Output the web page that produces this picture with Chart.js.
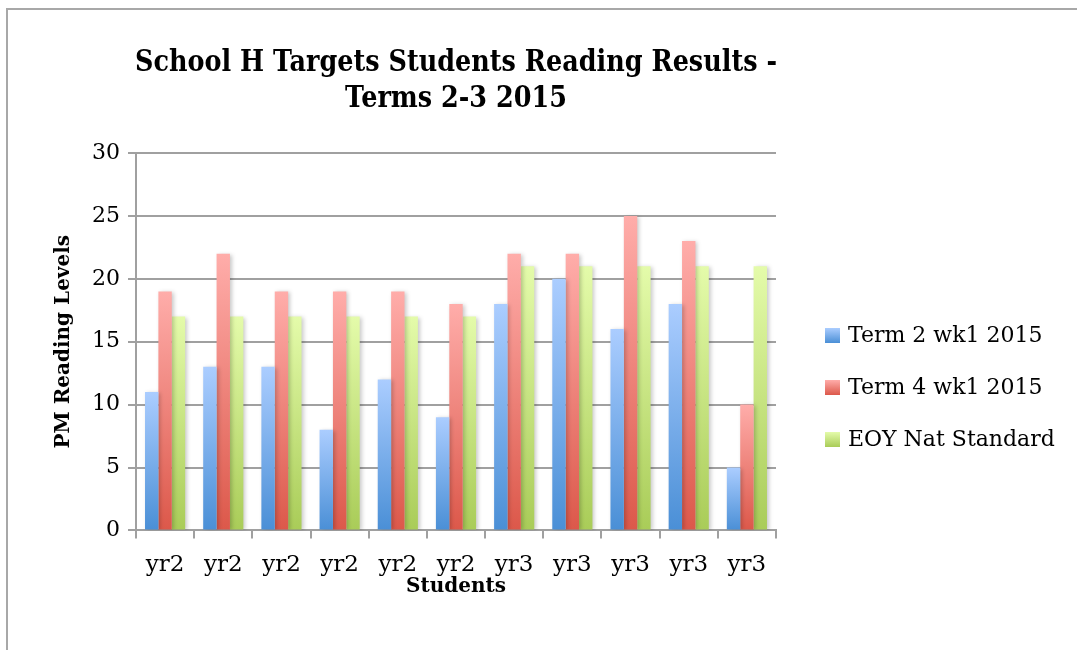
<!DOCTYPE html>
<html>
<head>
<meta charset="utf-8">
<script src="https://cdn.jsdelivr.net/npm/chart.js@4.4.0/dist/chart.umd.min.js"></script>
<style>
    body { margin: 0; background: #fff; }
    #frame {
        position: absolute; left: 6px; top: 8px; width: 1200px; height: 800px;
        border-left: 2px solid #a8a8a8; border-top: 2px solid #a8a8a8;
    }
    #wrap { position: absolute; left: 0; top: 0; width: 1077px; height: 650px; }
</style>
</head>
<body>
<div id="frame"></div>
<div id="wrap"><canvas id="chart" width="1077" height="650"></canvas></div>
<script>
const categories = ["yr2", "yr2", "yr2", "yr2", "yr2", "yr2", "yr3", "yr3", "yr3", "yr3", "yr3"];
const term2 = [11, 13, 13, 8, 12, 9, 18, 20, 16, 18, 5];
const term4 = [19, 22, 19, 19, 19, 18, 22, 22, 25, 23, 10];
const eoyStandard = [17, 17, 17, 17, 17, 17, 21, 21, 21, 21, 21];
const seriesNames = ["Term 2 wk1 2015", "Term 4 wk1 2015", "EOY Nat Standard"];
const titleLines = ["School H Targets Students Reading Results -", "Terms 2-3 2015"];

// top colour, bottom colour
const palette = [
    ["#abcdff", "#4a8fd6"],
    ["#ffadaa", "#dc584a"],
    ["#e4fbaa", "#a9cc58"]
];

function vGradient(ctx, top, bot, pal) {
    const g = ctx.createLinearGradient(0, top, 0, bot);
    g.addColorStop(0, pal[0]);
    g.addColorStop(1, pal[1]);
    return g;
}

function barGradient(pal) {
    return function (c) {
        const chart = c.chart;
        if (!chart.chartArea || c.raw === undefined) return pal[1];
        const y = chart.scales.y;
        return vGradient(chart.ctx, y.getPixelForValue(c.raw), y.getPixelForValue(0), pal);
    };
}

// Title centred over the plot area, like the original
const titlePlugin = {
    id: "plotTitle",
    afterDraw(chart) {
        const { ctx, chartArea } = chart;
        const cx = (chartArea.left + chartArea.right) / 2;
        ctx.save();
        ctx.font = "bold 30px 'DejaVu Serif'";
        ctx.fillStyle = "#000";
        ctx.textAlign = "center";
        ctx.textBaseline = "alphabetic";
        // the original face is narrower, squeeze to its width
        const sx = 642 / ctx.measureText(titleLines[0]).width;
        ctx.translate(cx, 0);
        ctx.scale(sx, 1);
        titleLines.forEach((line, i) => ctx.fillText(line, 0, 71 + i * 36));
        ctx.restore();
    }
};

// legend drawn on the right, gradient swatches
const legendPlugin = {
    id: "sideLegend",
    afterDraw(chart) {
        const ctx = chart.ctx;
        ctx.save();
        ctx.font = "22px 'DejaVu Serif'";
        ctx.textBaseline = "middle";
        seriesNames.forEach((name, i) => {
            const cy = 335 + i * 52;
            ctx.fillStyle = vGradient(ctx, cy - 7, cy + 8, palette[i]);
            ctx.fillRect(825, cy - 7, 15, 15);
            ctx.fillStyle = "#000";
            ctx.fillText(name, 848, cy + 1);
        });
        ctx.restore();
    }
};

// soft shadow behind bars
const shadowPlugin = {
    id: "barShadow",
    beforeDatasetsDraw(chart) {
        const ctx = chart.ctx;
        ctx.save();
        ctx.shadowColor = "rgba(0,0,0,0.22)";
        ctx.shadowBlur = 4;
        ctx.shadowOffsetX = 2;
        ctx.shadowOffsetY = 1;
    },
    afterDatasetsDraw(chart) {
        chart.ctx.restore();
    }
};

const datasets = [term2, term4, eoyStandard].map((vals, i) => ({
    label: seriesNames[i],
    data: vals,
    backgroundColor: barGradient(palette[i]),
    borderWidth: 0,
    categoryPercentage: 0.69,
    barPercentage: 1.0
}));

new Chart(document.getElementById("chart"), {
    type: "bar",
    data: { labels: categories, datasets: datasets },
    plugins: [titlePlugin, legendPlugin, shadowPlugin],
    options: {
        responsive: false,
        animation: false,
        layout: { padding: { top: 153, left: 48, right: 301, bottom: 47 } },
        plugins: {
            tooltip: { enabled: false },
            legend: { display: false }
        },
        scales: {
            y: {
                min: 0,
                max: 30,
                ticks: { stepSize: 5, color: "#000", font: { family: "DejaVu Serif", size: 22 }, padding: 8 },
                grid: { color: "#a0a0a0", lineWidth: 2, tickLength: 8 },
                border: { color: "#a0a0a0", width: 2 },
                title: {
                    display: true,
                    text: "PM Reading Levels",
                    color: "#000",
                    font: { family: "DejaVu Serif", size: 20, weight: "bold" },
                    padding: { bottom: 8 }
                }
            },
            x: {
                ticks: { color: "#000", font: { family: "DejaVu Serif", size: 23 }, padding: 13 },
                grid: { drawOnChartArea: false, color: "#a0a0a0", lineWidth: 2, tickLength: 8 },
                border: { color: "#a0a0a0", width: 2 },
                title: {
                    display: true,
                    text: "Students",
                    color: "#000",
                    font: { family: "DejaVu Serif", size: 20, weight: "bold" },
                    padding: { top: -17 }
                }
            }
        }
    }
});
</script>
</body>
</html>
